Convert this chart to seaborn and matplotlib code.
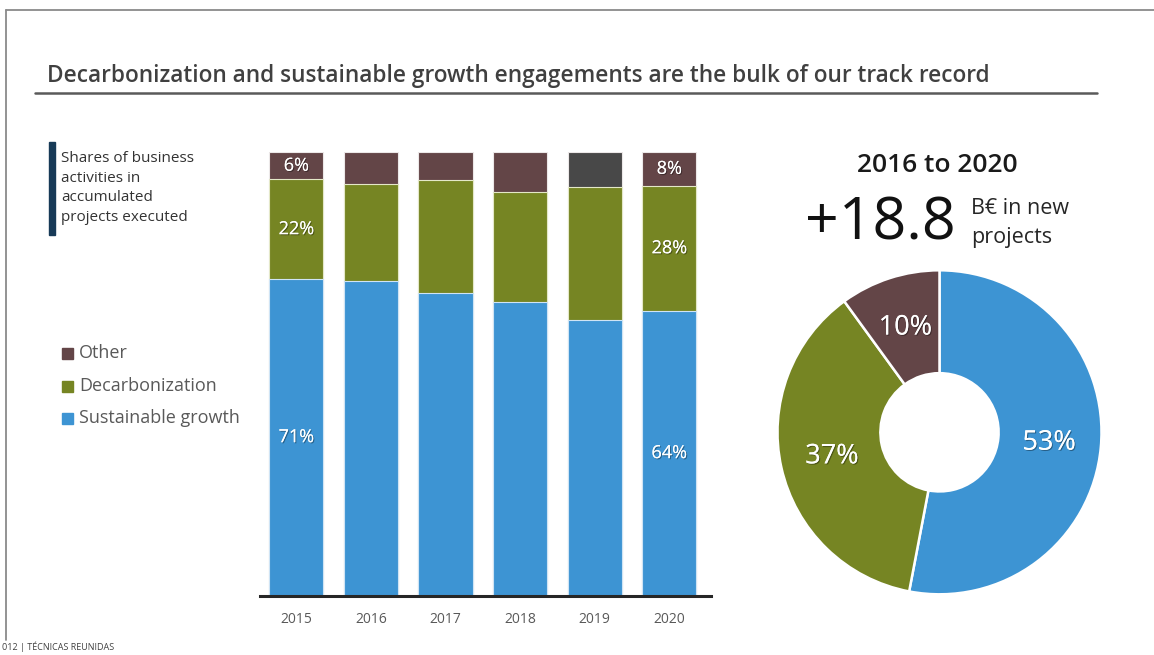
import matplotlib
matplotlib.use("Agg")
import matplotlib.pyplot as plt
import matplotlib.patheffects as pe
from matplotlib.patches import Rectangle
from matplotlib.lines import Line2D
import seaborn as sns
import pandas as pd

# ---- data -------------------------------------------------------------
years = ["2015", "2016", "2017", "2018", "2019", "2020"]
sustainable_growth = [71.4, 70.9, 68.3, 66.2, 62.1, 64.2]
decarbonization = [22.4, 21.8, 25.4, 24.8, 30.0, 28.2]
other = [6.2, 7.3, 6.3, 9.0, 7.9, 7.6]
labelled_years = ["2015", "2020"]

donut_labels = ["Sustainable growth", "Decarbonization", "Other"]
donut_shares = [53, 37, 10]

period_text = "2016 to 2020"
headline_value = "+18.8"
headline_unit = "B€ in new\nprojects"

# ---- style ------------------------------------------------------------
BLUE = "#3d94d3"
GREEN = "#768523"
MAROON = "#634547"
GREY_2019 = "#484848"
TEXT = "#404040"
MUTED = "#595959"

sns.set_theme(style="white")
plt.rcParams["font.family"] = ["Open Sans", "DejaVu Sans"]

df = pd.DataFrame({
    "year": years,
    "sg": sustainable_growth,
    "dec": decarbonization,
    "other": other,
})
df["top_dec"] = df["sg"] + df["dec"]
df["top_other"] = df["top_dec"] + df["other"]

W, H = 1154, 655
fig = plt.figure(figsize=(W / 100, H / 100), dpi=100)
fig.patch.set_facecolor("white")

def px_axes(x0, y0, x1, y1):
    return fig.add_axes([x0 / W, 1 - y1 / H, (x1 - x0) / W, (y1 - y0) / H])

# ---- stacked bars (cumulative layers drawn back to front) -------------
ax = px_axes(260, 152, 711, 595.5)
other_palette = {y: (GREY_2019 if y == "2019" else MAROON) for y in years}
sns.barplot(data=df, x="year", y="top_other", hue="year", palette=other_palette,
            width=0.725, legend=False, ax=ax, edgecolor="#ece8e8", linewidth=0.8,
            saturation=1)
sns.barplot(data=df, x="year", y="top_dec", color=GREEN, width=0.725, ax=ax,
            edgecolor="#e4e8c8", linewidth=0.8, saturation=1)
sns.barplot(data=df, x="year", y="sg", color=BLUE, width=0.725, ax=ax,
            edgecolor="#cfe4f5", linewidth=0.8, saturation=1)
ax.set_xlim(-0.487, 5.56)
ax.set_ylim(0, 100)
ax.set_xlabel("")
ax.set_ylabel("")
ax.set_yticks([])
sns.despine(ax=ax, left=True)
ax.spines["bottom"].set_color("#262626")
ax.spines["bottom"].set_linewidth(2.2)
ax.tick_params(axis="x", length=0, pad=12, labelsize=10, labelcolor=MUTED)

shadow = [pe.withSimplePatchShadow(offset=(0.8, -0.8), shadow_rgbFace="#000000", alpha=0.35),
          pe.Normal()]
for i, row in df.iterrows():
    if row["year"] not in labelled_years:
        continue
    segs = [(row["sg"] / 2, row["sg"]),
            (row["sg"] + row["dec"] / 2, row["dec"]),
            (row["top_dec"] + row["other"] / 2, row["other"])]
    for yc, v in segs:
        t = ax.text(i, yc, f"{v:.0f}%", ha="center", va="center", color="white",
                    fontsize=13)
        t.set_path_effects(shadow)

# ---- donut ------------------------------------------------------------
cx, cy, r = 939.5, 432.3, 162
pax = px_axes(cx - r, cy - r, cx + r, cy + r)
wedges, _, autotexts = pax.pie(
    donut_shares, colors=[BLUE, GREEN, MAROON], startangle=90, counterclock=False,
    radius=1, autopct=lambda p: f"{p:.0f}%", pctdistance=0.68,
    wedgeprops=dict(width=0.635, edgecolor="white", linewidth=1.8),
    textprops=dict(color="white", fontsize=19.5))
for t in autotexts:
    t.set_path_effects(shadow)
pax.set_xlim(-1, 1)
pax.set_ylim(-1, 1)
pax.set_aspect("equal")
pax.axis("off")

# ---- text, legend and frame -------------------------------------------
fig.text(47 / W, 1 - 76 / H, "Decarbonization and sustainable growth engagements are the bulk of our track record",
         fontsize=16.3, fontweight="semibold", color=TEXT, ha="left", va="center")
fig.add_artist(Line2D([35 / W, 1097 / W], [1 - 93 / H] * 2, color="#5a5a5a", linewidth=1.8))

# page frame
fig.add_artist(Line2D([6 / W, 6 / W], [1 - 10 / H, 1 - 640 / H], color="#8a8a8a", linewidth=1.3))
fig.add_artist(Line2D([6 / W, 1.0], [1 - 10 / H] * 2, color="#8a8a8a", linewidth=1.3))

# caption with accent bar
fig.add_artist(Rectangle((49 / W, 1 - 235 / H), 6 / W, 93 / H, color="#173a57", transform=fig.transFigure))
fig.text(61 / W, 1 - 151 / H, "Shares of business\nactivities in\naccumulated\nprojects executed",
         fontsize=11, color="#333333", ha="left", va="top", linespacing=1.42)

legend_items = [("Other", MAROON, 353), ("Decarbonization", GREEN, 386), ("Sustainable growth", BLUE, 418)]
for name, col, ypx in legend_items:
    fig.add_artist(Rectangle((62 / W, 1 - (ypx + 5.5) / H), 11 / W, 11 / H, color=col,
                             transform=fig.transFigure))
    fig.text(79 / W, 1 - ypx / H, name, fontsize=13, color=MUTED, ha="left", va="center")

# headline
fig.text(937 / W, 1 - 165 / H, period_text, fontsize=19, fontweight="semibold", color="#1a1a1a",
         ha="center", va="center")
fig.text(956 / W, 1 - 224 / H, headline_value, fontsize=42.5, color="#111111", ha="right", va="center")
fig.text(971 / W, 1 - 223 / H, headline_unit, fontsize=15.5, color="#262626", ha="left", va="center",
         linespacing=1.55)

fig.text(2 / W, 1 - 647 / H, "012 | TÉCNICAS REUNIDAS", fontsize=6.5, color=TEXT, ha="left", va="center")

fig.savefig("out.png", dpi=100)
